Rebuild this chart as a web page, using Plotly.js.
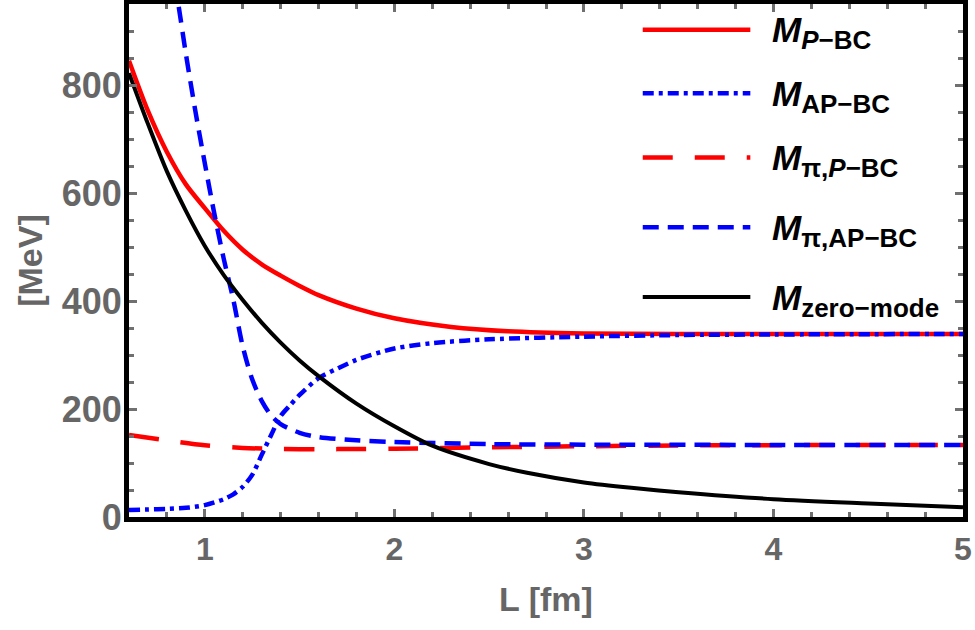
<!DOCTYPE html>
<html>
<head>
<meta charset="utf-8">
<script src="https://cdn.plot.ly/plotly-3.0.1.min.js"></script>
<style>html,body{margin:0;padding:0;background:#fff;}#chart{width:975px;height:630px;}</style>
</head>
<body>
<div id="chart"></div>
<script>
// ---- data ----
const L_P   = [0.6,0.7,0.8,0.9,1.0,1.1,1.2,1.3,1.4,1.5,1.6,1.8,2.0,2.3,2.6,3.0,3.5,4.0,4.5,5.0];
const M_P   = [845,752,676,616,572,530,495,468,447,428,411,386,368,352,344,340,339,339,339,339];

const L_AP  = [0.6,0.7,0.8,0.9,1.0,1.1,1.15,1.2,1.25,1.3,1.35,1.4,1.45,1.5,1.6,1.7,1.8,2.0,2.2,2.5,3.0,3.5,4.0,5.0];
const M_AP  = [13,14,15,17,22,33,42,56,78,115,152,187,207,226,257,275,291,312,322,329,334,337,338,339];

const L_piP = [0.6,0.8,1.0,1.2,1.4,1.6,1.8,2.0,2.5,3.0,3.5,4.0,5.0];
const M_piP = [152,142,133,128,126,125.5,126,126.5,129,131,132.5,133,133.5];

const L_piAP = [0.84,0.86,0.9,0.95,1.0,1.05,1.1,1.15,1.2,1.25,1.3,1.35,1.4,1.5,1.6,1.8,2.0,2.5,3.0,4.0,5.0];
const M_piAP = [990,950,858,752,655,562,478,403,316,255,215,188,172,156,148,142,139,135,134,133.5,133.5];

const L_Z   = [0.6,0.7,0.8,0.9,1.0,1.1,1.2,1.3,1.4,1.5,1.6,1.8,2.0,2.2,2.5,2.7,3.0,3.25,3.5,4.0,4.5,5.0];
const M_Z   = [822,728,640,567,502,448,402,360,323,290,261,210,168,132,98,82,64,54,46,33,25,18];

const seriesMain = 'M';
const seriesSubs = [
  '<i>P</i>\u2212BC',
  'AP\u2212BC',
  '\u03c0,<i>P</i>\u2212BC',
  '\u03c0,AP\u2212BC',
  'zero\u2212mode'
];
const xTickVals = [1,2,3,4,5];
const yTickVals = [0,200,400,600,800];
const xTitle = 'L [fm]';
const yTitle = '[MeV]';

// ---- styles ----
const styles = [
  {color:'#ff0000', dash:'solid', width:4.5},
  {color:'#0000ff', dash:'11px,5px,4px,5px', width:4.5},
  {color:'#ff0000', dash:'30px,22px', width:4.5},
  {color:'#0000ff', dash:'16px,9px', width:4.5},
  {color:'#000000', dash:'solid', width:4}
];
const xs = [L_P, L_AP, L_piP, L_piAP, L_Z];
const ys = [M_P, M_AP, M_piP, M_piAP, M_Z];
const labels = seriesSubs.map(s => '<b><i>' + seriesMain + '</i><sub><span style="font-size:26px">' + s + '</span></sub></b>');

const traces = xs.map((x,i)=>({
  x:x, y:ys[i], type:'scatter', mode:'lines', name:labels[i],
  line:{color:styles[i].color, dash:styles[i].dash, width:styles[i].width, shape:'spline', smoothing:0.8},
  showlegend:false, hoverinfo:'skip'
}));

// ---- manual legend (keys + labels) ----
const legY = [0.950, 0.826, 0.701, 0.565, 0.429];
const shapes = [];
const annotations = [];
legY.forEach((yy,i)=>{
  shapes.push({type:'line', xref:'paper', yref:'paper', x0:0.616, x1:0.745, y0:yy, y1:yy,
    line:{color:styles[i].color, dash:styles[i].dash, width:styles[i].width}});
  annotations.push({xref:'paper', yref:'paper', x:0.768, y:yy - 0.006, xanchor:'left', yanchor:'middle',
    text:labels[i], showarrow:false, font:{family:'Liberation Sans, Arial, sans-serif', size:35, color:'#000'}});
});

const gray = '#666666';
const fontFam = 'Liberation Sans, Arial, sans-serif';

const layout = {
  width:975, height:630,
  margin:{l:129, r:12, t:4, b:113},
  paper_bgcolor:'#fff', plot_bgcolor:'#fff',
  showlegend:false,
  xaxis:{
    range:[0.6,5], tickvals:xTickVals, ticktext:xTickVals.map(String),
    ticks:'inside', ticklen:8, tickwidth:3, tickcolor:'#707070',
    minor:{dtick:0.2, tick0:0, ticks:'inside', ticklen:5, tickwidth:3, tickcolor:'#707070'},
    showline:true, linewidth:5, linecolor:'#000', mirror:'allticks',
    showgrid:false, zeroline:false,
    tickfont:{family:fontFam, size:32, color:gray, weight:'bold'},
    title:{text:xTitle, font:{family:fontFam, size:34, color:gray, weight:'bold'}, standoff:22}
  },
  yaxis:{
    range:[0,950], tickvals:yTickVals, ticktext:yTickVals.map(String),
    ticks:'inside', ticklen:8, tickwidth:3, tickcolor:'#707070',
    minor:{dtick:50, tick0:0, ticks:'inside', ticklen:5, tickwidth:3, tickcolor:'#707070'},
    showline:true, linewidth:5, linecolor:'#000', mirror:'allticks',
    showgrid:false, zeroline:false, ticklabelstandoff:-5,
    tickfont:{family:fontFam, size:36, color:gray, weight:'bold'},
    title:{text:yTitle, font:{family:fontFam, size:34, color:gray, weight:'bold'}, standoff:10}
  },
  shapes:shapes,
  annotations:annotations
};

Plotly.newPlot('chart', traces, layout, {staticPlot:true, displayModeBar:false});
</script>
</body>
</html>
